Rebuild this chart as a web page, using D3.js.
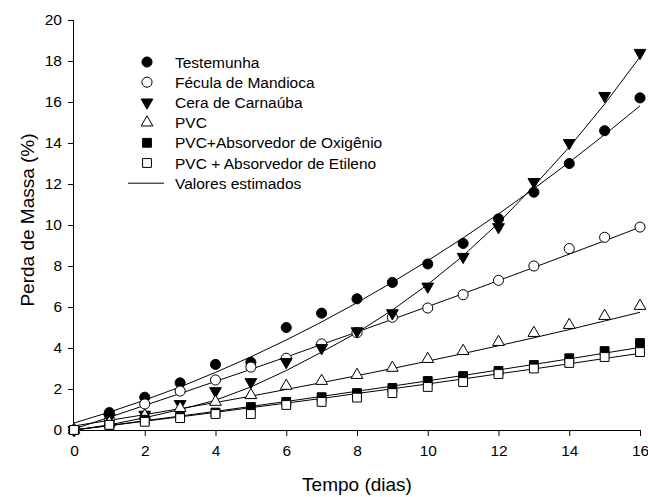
<!DOCTYPE html>
<html>
<head>
<meta charset="utf-8">
<script src="https://cdn.jsdelivr.net/npm/d3@7/dist/d3.min.js"></script>
<style>
  html, body { margin: 0; padding: 0; background: #fff; }
  svg { display: block; }
  text { font-family: "Liberation Sans", Arial, sans-serif; fill: #000; }
</style>
</head>
<body>
<svg id="chart" width="648" height="497"></svg>
<script>
// ---- data ----
const days = [0,1,2,3,4,5,6,7,8,9,10,11,12,13,14,15,16];
const seriesNames = ["Testemunha","Fécula de Mandioca","Cera de Carnaúba","PVC","PVC+Absorvedor de Oxigênio","PVC + Absorvedor de Etileno"];
const testemunha = [0,0.85,1.6,2.3,3.2,3.3,5.0,5.7,6.4,7.2,8.1,9.1,10.3,11.6,13.0,14.6,16.2];
const fecula     = [0,0.5,1.27,1.9,2.44,3.07,3.5,4.2,4.75,5.5,5.95,6.6,7.3,8.0,8.85,9.4,9.9];
const cera       = [0,0.6,0.75,1.27,1.9,2.34,3.32,4.0,4.82,5.7,7.0,8.45,9.9,12.1,14.0,16.3,18.4];
const pvc        = [0,0.35,0.7,1.07,1.37,1.7,2.15,2.39,2.68,3.03,3.46,3.85,4.29,4.73,5.12,5.56,6.05];
const pvcOxi     = [0,0.25,0.5,0.65,0.85,1.12,1.37,1.6,1.8,2.05,2.39,2.63,2.88,3.17,3.5,3.85,4.24];
const pvcEti     = [0,0.25,0.4,0.58,0.78,0.78,1.22,1.37,1.58,1.8,2.1,2.34,2.73,3.0,3.27,3.56,3.8];
// estimated (fitted) values
const estTestemunha = [0.34,0.87,1.46,2.10,2.81,3.57,4.39,5.27,6.21,7.21,8.26,9.37,10.54,11.77,13.06,14.41,15.81];
const estFecula     = [0.05,0.62,1.20,1.78,2.37,2.96,3.56,4.17,4.78,5.40,6.02,6.65,7.29,7.93,8.58,9.23,9.89];
const estCera       = [0.0,0.25,0.6,1.0,1.45,2.1,2.9,3.8,4.75,5.85,7.1,8.5,10.1,11.9,13.8,15.9,18.2];
const estPvc        = [0.20,0.47,0.75,1.04,1.34,1.65,1.98,2.31,2.65,3.00,3.36,3.73,4.11,4.50,4.90,5.32,5.74];
const estPvcOxi     = [0.0,0.22,0.45,0.68,0.91,1.15,1.39,1.64,1.89,2.14,2.40,2.66,2.93,3.20,3.47,3.75,4.03];
const estPvcEti     = [0.0,0.21,0.43,0.64,0.86,1.09,1.31,1.54,1.78,2.01,2.25,2.49,2.74,2.98,3.23,3.49,3.74];
const xTicks = [0,2,4,6,8,10,12,14,16];
const yTicks = [0,2,4,6,8,10,12,14,16,18,20];
const legendLineLabel = "Valores estimados";
const xTitle = "Tempo (dias)";
const yTitle = "Perda de Massa (%)";

// ---- layout ----
const svg = d3.select("#chart");
const mLeft = 74, mRight = 640, mTop = 20, mBottom = 430;
const x = d3.scaleLinear().domain([0,16]).range([mLeft, mRight]);
const y = d3.scaleLinear().domain([0,20]).range([mBottom, mTop]);

const observed = [testemunha, fecula, cera, pvc, pvcOxi, pvcEti];
const estimated = [estTestemunha, estFecula, estCera, estPvc, estPvcOxi, estPvcEti];
const styles = [
  {type: d3.symbolCircle, size: 80, fill: "#000", rot: 0},
  {type: d3.symbolCircle, size: 80, fill: "#fff", rot: 0},
  {type: d3.symbolTriangle, size: 60, fill: "#000", rot: 180},
  {type: d3.symbolTriangle, size: 60, fill: "#fff", rot: 0},
  {type: d3.symbolSquare, size: 78, fill: "#000", rot: 0},
  {type: d3.symbolSquare, size: 78, fill: "#fff", rot: 0}
];

svg.append("defs").append("clipPath").attr("id","clip")
  .append("rect").attr("x", mLeft).attr("y", mTop).attr("width", mRight-mLeft).attr("height", mBottom-mTop);

// axes
const xAxis = d3.axisBottom(x).tickValues(xTicks).tickSize(6).tickPadding(9).tickFormat(d3.format("d"));
const yAxis = d3.axisLeft(y).tickValues(yTicks).tickSize(6).tickPadding(6).tickFormat(d3.format("d"));
const gx = svg.append("g").attr("transform", `translate(0,${mBottom})`).call(xAxis);
const gy = svg.append("g").attr("transform", `translate(${mLeft},0)`).call(yAxis);
[gx, gy].forEach(g => {
  g.select(".domain").attr("stroke","#000").attr("stroke-width",1);
  g.selectAll(".tick line").attr("stroke","#000").attr("stroke-width",1);
  g.selectAll(".tick text").attr("font-size", 15.5).attr("font-family", '"Liberation Sans", Arial, sans-serif').attr("fill","#000");
});
gx.select(".domain").attr("d", `M${mLeft},0.5H${mRight}`);
gy.select(".domain").attr("d", `M-0.5,${mBottom}V${mTop}`);

// fitted lines
const line = d3.line().x((d,i) => x(days[i])).y(d => y(d));
const gl = svg.append("g").attr("clip-path","url(#clip)");
estimated.forEach(est => {
  gl.append("path").datum(est).attr("d", line).attr("fill","none").attr("stroke","#000").attr("stroke-width",1);
});

// markers
observed.forEach((vals, si) => {
  const st = styles[si];
  const sym = d3.symbol().type(st.type).size(st.size);
  svg.append("g").selectAll("path").data(vals).join("path")
    .attr("d", sym)
    .attr("transform", (d,i) => `translate(${x(days[i])},${y(d)}) rotate(${st.rot})`)
    .attr("fill", st.fill).attr("stroke","#000").attr("stroke-width",1);
});

// legend
const lg = svg.append("g");
const symX = 147, textX = 175, row0 = 62, rowH = 20.2;
seriesNames.forEach((name, i) => {
  const st = styles[i];
  const yy = row0 + i*rowH;
  lg.append("path").attr("d", d3.symbol().type(st.type).size(st.size)())
    .attr("transform", `translate(${symX},${yy}) rotate(${st.rot})`)
    .attr("fill", st.fill).attr("stroke","#000").attr("stroke-width",1);
  lg.append("text").attr("x", textX).attr("y", yy + 5.5).attr("font-size", 15.5).text(name);
});
const lyy = row0 + 6*rowH;
lg.append("line").attr("x1",128).attr("x2",164).attr("y1",lyy).attr("y2",lyy).attr("stroke","#000").attr("stroke-width",1);
lg.append("text").attr("x", textX).attr("y", lyy + 5.5).attr("font-size", 15.5).text(legendLineLabel);

// titles
svg.append("text").attr("x", (mLeft+mRight)/2).attr("y", 491).attr("text-anchor","middle").attr("font-size", 19).text(xTitle);
svg.append("text").attr("transform", `translate(34,220) rotate(-90)`).attr("text-anchor","middle").attr("font-size", 19).text(yTitle);
</script>
</body>
</html>
